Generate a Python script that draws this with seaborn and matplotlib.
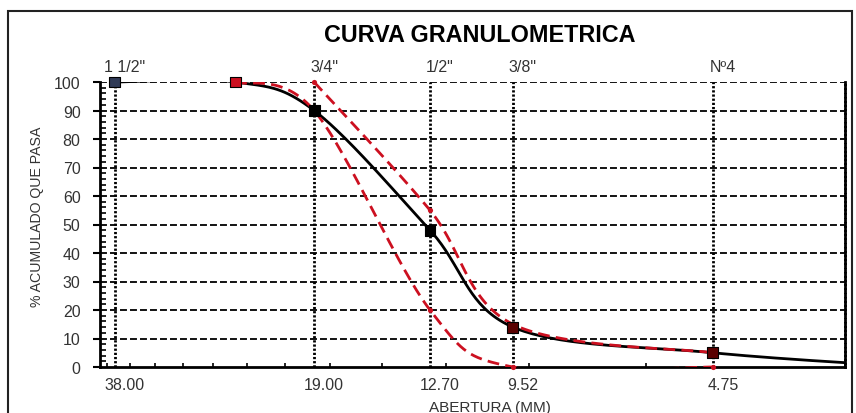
import numpy as np
import matplotlib
matplotlib.use("Agg")
import matplotlib.pyplot as plt
import matplotlib.transforms as mtransforms
from matplotlib.patches import Rectangle
from matplotlib.ticker import FixedLocator, NullFormatter, FixedFormatter
import seaborn as sns

# ---------------- data ----------------
sieve_mm = [38.00, 19.00, 12.70, 9.52, 4.75]
sieve_names = ['1 1/2"', '3/4"', '1/2"', '3/8"', 'Nº4']
sample_mm = [38.0, 25.0, 19.0, 12.7, 9.52, 4.75, 2.36]
sample_pass = [100, 100, 90, 48, 14, 5, 0]
upper_mm = [19.0, 12.7, 9.52, 4.75]
upper_pass = [100, 55, 15, 5]
lower_mm = [25.0, 19.0, 12.7, 9.52, 4.75]
lower_pass = [100, 90, 20, 0, 0]
y_ticks = list(range(0, 101, 10))

# ---------------- style ----------------
sns.set_theme(style="white")
plt.rcParams['font.family'] = ['Liberation Sans', 'DejaVu Sans']
plt.rcParams['lines.scale_dashes'] = False

RED = '#CC1020'
LABEL = '#333333'
SX, SY = 288.0, 2.85  # screen scale used for Excel-like smoothing


def smooth(xs, ys, n=40):
    px = np.log(np.asarray(xs, float)) * SX
    py = np.asarray(ys, float) * SY
    P = np.column_stack([px, py])
    out = [P[0]]
    t = np.linspace(0, 1, n)[1:, None]
    for i in range(len(P) - 1):
        p0 = P[i - 1] if i > 0 else P[i]
        p1, p2 = P[i], P[i + 1]
        p3 = P[i + 2] if i + 2 < len(P) else P[i + 1]
        c1 = p1 + (p2 - p0) / 6.0
        c2 = p2 - (p3 - p1) / 6.0
        seg = (1 - t) ** 3 * p1 + 3 * (1 - t) ** 2 * t * c1 + 3 * (1 - t) * t ** 2 * c2 + t ** 3 * p2
        out.extend(seg)
    out = np.array(out)
    return np.exp(out[:, 0] / SX), out[:, 1] / SY


fig = plt.figure(figsize=(8.56, 4.14), dpi=100)
ax = fig.add_axes([100 / 856, 1 - 368 / 414, 745 / 856, 285 / 414])
ax.set_xscale('log')

# horizontal dashed grid
for yv in y_ticks[1:]:
    ax.axhline(yv, color='black', lw=1.3, dashes=(5, 2.2), zorder=1)
# vertical dotted sieve lines
ax.vlines(sieve_mm, 0, 100, colors='black', lw=2.0, linestyles=[(0, (1.6, 1.4))], zorder=1.5)

# sample curve (black)
sx, sy = smooth(sample_mm, sample_pass)
sns.lineplot(x=sx, y=sy, sort=False, estimator=None, color='black', lw=2.0, ax=ax, zorder=3)

# limit curves (red dashed)
for mm, pp in [(upper_mm, upper_pass), (lower_mm, lower_pass)]:
    lx, ly = smooth(mm, pp)
    sns.lineplot(x=lx, y=ly, sort=False, estimator=None, color=RED, lw=2.0, ax=ax, zorder=4)
    ax.get_lines()[-1].set_dashes((8.5, 4.5))
    sns.scatterplot(x=mm, y=pp, marker='o', s=14, color=RED, edgecolor=RED,
                    linewidth=0, ax=ax, zorder=5)
    ax.collections[-1].set_clip_on(False)

# sample markers
sns.scatterplot(x=sample_mm[:-1], y=sample_pass[:-1], marker='s', s=62, color='black',
                edgecolor='black', linewidth=0.8, ax=ax, zorder=6)
ax.collections[-1].set_facecolor(['#2F3A56', RED, 'black', 'black', '#5A0000', '#5A0000'])
ax.collections[-1].set_clip_on(False)

ax.set_xlim(40, 3)
ax.set_ylim(0, 100)

# axes ticks
ax.xaxis.set_major_locator(FixedLocator(sieve_mm))
ax.xaxis.set_major_formatter(FixedFormatter([f"{v:.2f}" for v in sieve_mm]))
ax.xaxis.set_minor_locator(FixedLocator(list(range(3, 40, 3))))
ax.xaxis.set_minor_formatter(NullFormatter())
ax.tick_params(axis='x', which='major', length=0, pad=7, labelsize=11.5, labelcolor=LABEL, bottom=True)
ax.tick_params(axis='x', which='minor', length=3, width=1.2, direction='in', color='black', bottom=True)
ax.set_yticks(y_ticks)
ax.yaxis.set_minor_locator(FixedLocator(list(range(0, 101, 2))))
ax.tick_params(axis='y', which='major', length=5, width=1.5, direction='out', color='black',
               pad=9, labelsize=11.5, labelcolor=LABEL, left=True)
ax.tick_params(axis='y', which='minor', length=4, width=1.2, direction='in', color='black', left=True)
ax.set_xlabel('')
ax.set_ylabel('')

for lab in ax.get_xticklabels():
    lab.set_transform(lab.get_transform() + mtransforms.ScaledTranslation(0.1, 0, fig.dpi_scale_trans))

# spines
ax.spines['top'].set_visible(False)
ax.spines['right'].set_color('black')
ax.spines['right'].set_linewidth(2.0)
ax.spines['right'].set_linestyle((0, (1.6, 1.4)))
for s in ['left', 'bottom']:
    ax.spines[s].set_color('black')
    ax.spines[s].set_linewidth(2.0)
    ax.spines[s].set_zorder(2.5)

# top sieve labels
ax2 = ax.twiny()
ax2.set_xscale('log')
ax2.set_xlim(ax.get_xlim())
ax2.xaxis.set_major_locator(FixedLocator(sieve_mm))
ax2.xaxis.set_major_formatter(FixedFormatter(sieve_names))
ax2.xaxis.set_minor_locator(FixedLocator([]))
ax2.tick_params(axis='x', which='major', length=0, pad=6, labelsize=11.5, labelcolor=LABEL)
for s in ax2.spines.values():
    s.set_visible(False)
for lab in ax2.get_xticklabels():
    lab.set_transform(lab.get_transform() + mtransforms.ScaledTranslation(0.1, 0, fig.dpi_scale_trans))

# texts
fig.text(480 / 856, 1 - 36 / 414, 'CURVA GRANULOMETRICA', ha='center', va='center',
         fontsize=16.8, fontweight='bold', color='black')
fig.text(490 / 856, 1 - 408 / 414, 'ABERTURA (MM)', ha='center', va='center',
         fontsize=11, color=LABEL)
fig.text(37 / 856, 1 - 217 / 414, '% ACUMULADO QUE PASA', ha='center', va='center',
         rotation=90, fontsize=10.2, color=LABEL)

# outer frame
fig.patches.append(Rectangle((8 / 856, -0.1), 844 / 856, 1.1 - 12 / 414, transform=fig.transFigure,
                             fill=False, edgecolor='#222222', lw=1.5))

fig.savefig('out.png', dpi=100)
